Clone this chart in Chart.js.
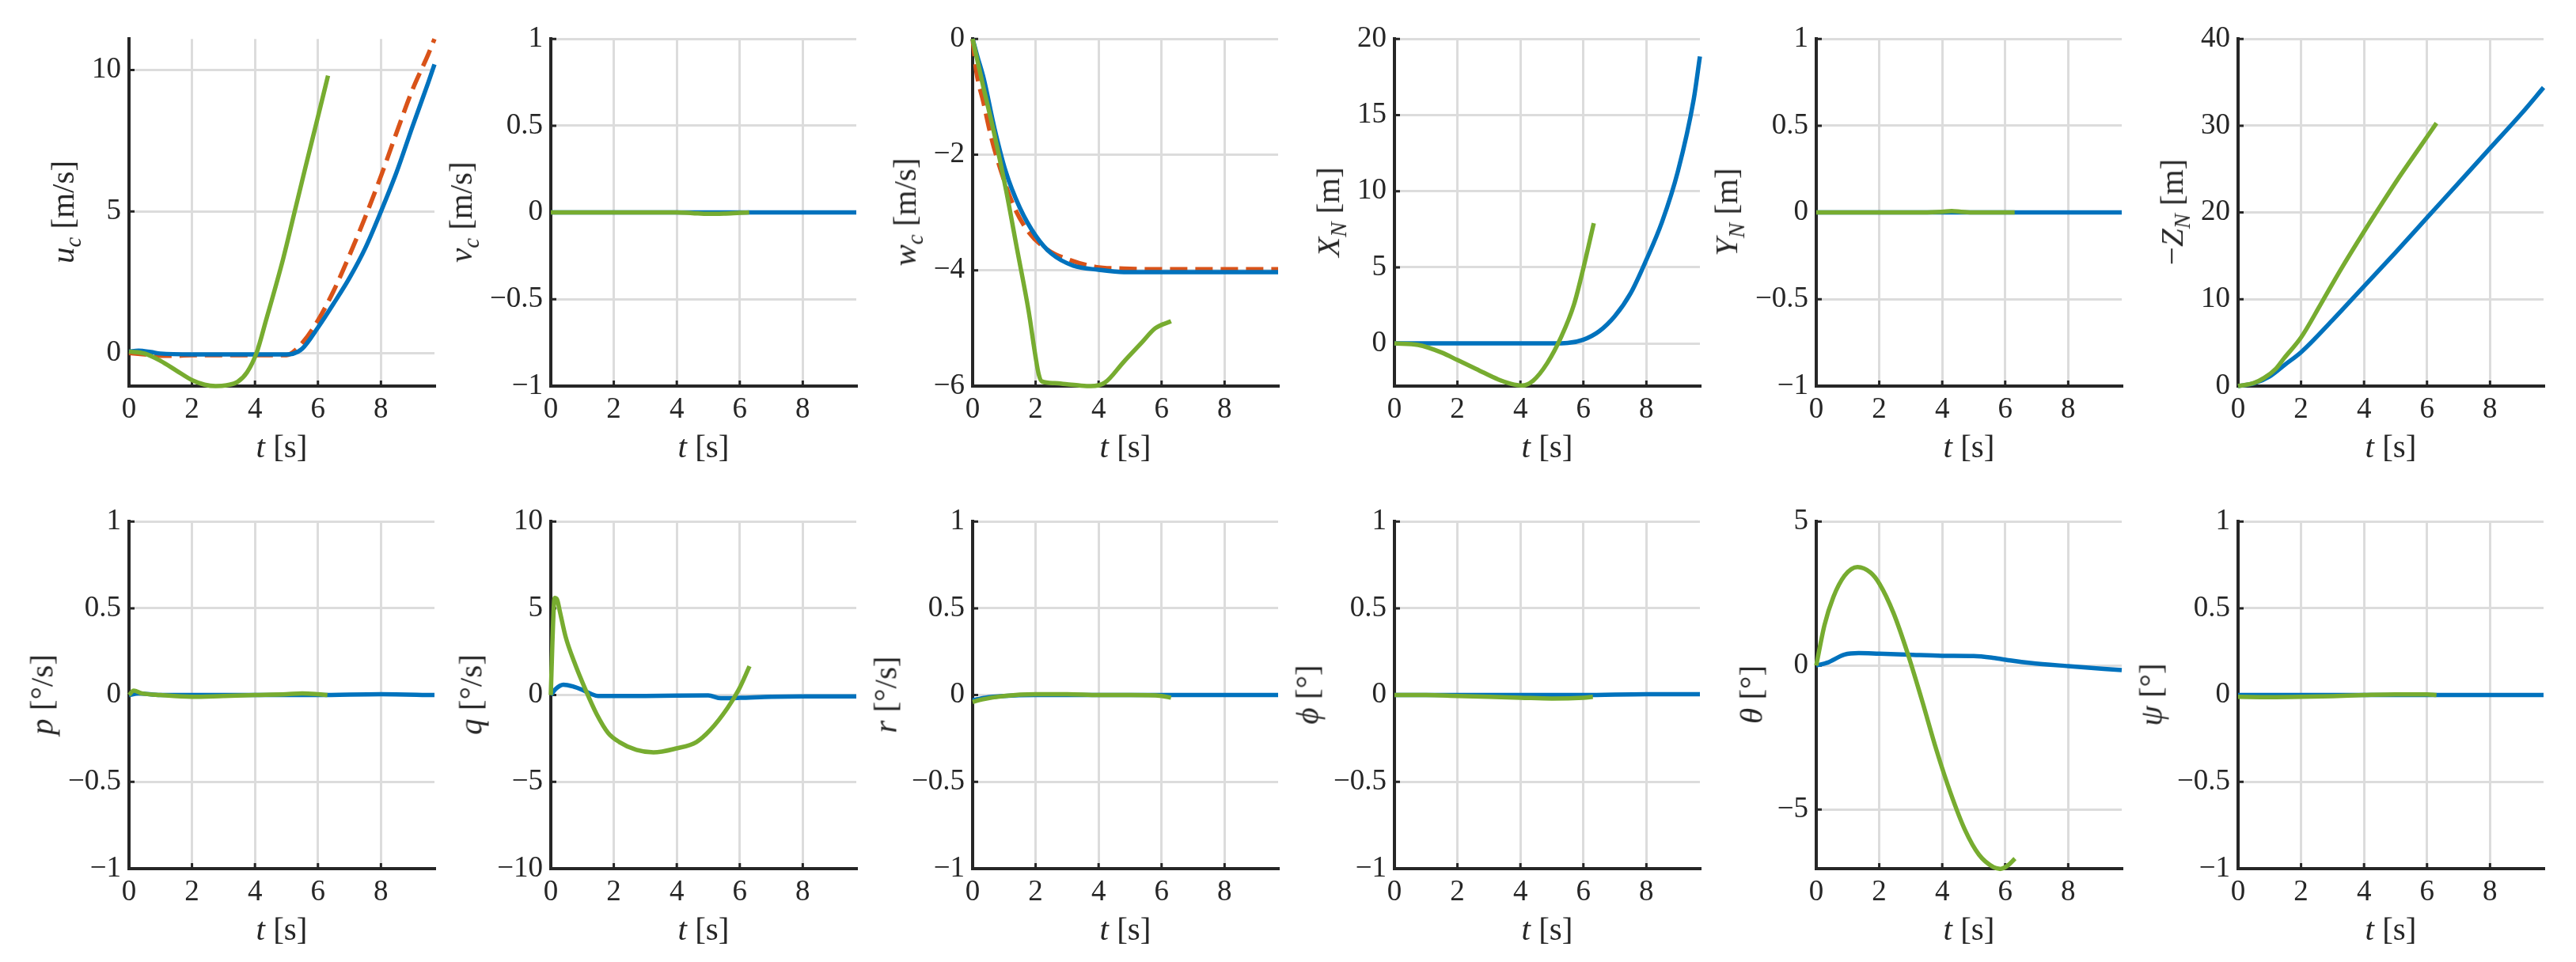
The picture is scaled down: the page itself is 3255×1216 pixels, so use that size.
<!DOCTYPE html>
<html>
<head>
<meta charset="utf-8">
<script src="https://cdn.jsdelivr.net/npm/chart.js@4.4.1/dist/chart.umd.min.js"></script>
<style>
  body { margin: 0; background: #fff; }
  #fig {
    position: relative; width: 3255px; height: 1216px; overflow: hidden;
    background: #fff; color: #262626;
    font-family: "Liberation Serif", "DejaVu Serif", serif;
  }
  #fig canvas { position: absolute; }
  .ylab, .xlab { position: absolute; white-space: nowrap; line-height: 1; font-size: 41px; }
  .ylab { transform: translate(-50%, -50%) rotate(-90deg); }
  .xlab { transform: translate(-50%, -50%); }
  sub { font-size: 0.7em; }
</style>
</head>
<body>
<div id="fig"></div>
<script>
// ---- values (t in s) ----
const T_END = 9.7;
const ticksT = [0, 2, 4, 6, 8];

// u_c [m/s]
const uRefT = [0, 0.5, 1, 1.5, 2, 3, 4, 5, 5.1, 5.5, 6, 6.5, 7, 7.5, 8, 8.5, 9, 9.5, 9.7];
const uRef = [0, -0.05, -0.1, -0.1, -0.08, -0.08, -0.08, -0.08, -0.05, 0.35, 1.15, 2.2, 3.45, 4.8, 6.25, 7.8, 9.3, 10.55, 11.1];
const uBlueT = [0, 0.3, 0.7, 1, 2, 3, 4, 5, 5.2, 5.5, 6, 6.5, 7, 7.5, 8, 8.5, 9, 9.5, 9.7];
const uBlue = [0.05, 0.08, 0.03, -0.02, -0.05, -0.05, -0.05, -0.05, -0.03, 0.15, 0.9, 1.75, 2.65, 3.7, 5.0, 6.4, 8.0, 9.55, 10.2];
const uGreenT = [0, 0.5, 1, 1.5, 2, 2.4, 2.75, 3.1, 3.45, 3.75, 4.05, 4.35, 4.9, 5.25, 5.6, 6, 6.32];
const uGreen = [0.05, -0.02, -0.28, -0.62, -0.96, -1.12, -1.17, -1.14, -1.02, -0.68, 0, 1.15, 3.35, 4.95, 6.55, 8.35, 9.8];
const ticksU = [0, 5, 10];

// v_c [m/s]
const vBlueT = [0, 2, 4, 6, 8, 9.7];
const vBlue = [0, 0, 0, 0, 0, 0];
const vGreenT = [0, 1, 2, 3, 4, 4.5, 5, 5.5, 6, 6.3];
const vGreen = [0, 0, 0, 0, 0, -0.004, -0.008, -0.006, -0.002, 0];

// w_c [m/s]
const wRefT = [0, 0.12, 0.34, 0.6, 0.97, 1.33, 1.78, 2.4, 3.03, 3.9, 4.8, 6, 8, 9.7];
const wRef = [0, -0.57, -1.09, -1.72, -2.4, -2.92, -3.34, -3.65, -3.81, -3.94, -3.97, -3.98, -3.98, -3.98];
const wBlueT = [0, 0.15, 0.35, 0.7, 1.05, 1.5, 2, 2.5, 3.2, 4, 4.8, 6, 8, 9.7];
const wBlue = [0, -0.3, -0.68, -1.56, -2.29, -2.92, -3.4, -3.71, -3.92, -3.99, -4.03, -4.03, -4.03, -4.03];
const wGreenT = [0, 0.34, 0.7, 1.06, 1.42, 1.78, 2.0, 2.1, 2.2, 2.6, 3.0, 3.4, 3.75, 4.2, 4.8, 5.35, 5.8, 6.3];
const wGreen = [0, -0.83, -1.67, -2.61, -3.66, -4.71, -5.5, -5.8, -5.92, -5.95, -5.97, -5.99, -6.0, -5.94, -5.58, -5.26, -5.0, -4.88];
const ticksW = [-6, -4, -2, 0];

// X_N [m]
const xBlueT = [0, 1, 2, 3, 4, 5, 5.5, 6, 6.5, 7, 7.5, 8, 8.5, 9, 9.5, 9.7];
const xBlue = [0, 0, 0, 0, 0, 0, 0.03, 0.25, 0.8, 1.8, 3.3, 5.5, 8.0, 11.3, 16.0, 18.85];
const xGreenT = [0, 0.75, 1.5, 2, 2.6, 3.3, 3.7, 4.05, 4.4, 4.85, 5.3, 5.7, 6, 6.33];
const xGreen = [0, -0.1, -0.6, -1.09, -1.68, -2.37, -2.65, -2.76, -2.45, -1.3, 0.45, 2.55, 4.95, 7.9];
const ticksXN = [0, 5, 10, 15, 20];

// Y_N [m]
const yBlueT = [0, 2, 4, 6, 8, 9.7];
const yBlue = [0, 0, 0, 0, 0, 0];
const yGreenT = [0, 1, 2, 3, 4, 4.3, 4.6, 5, 6, 6.3];
const yGreen = [0, 0, 0, 0, 0.004, 0.008, 0.004, 0, 0, 0];

// -Z_N [m]
const zBlueT = [0, 0.5, 1, 1.5, 2, 3, 4, 5, 6, 7, 8, 9, 9.7];
const zBlue = [0, 0.3, 1.1, 2.5, 3.9, 7.6, 11.5, 15.4, 19.4, 23.4, 27.4, 31.4, 34.4];
const zGreenT = [0, 0.5, 0.83, 1.2, 1.46, 2, 2.62, 3.24, 4, 4.58, 5.12, 5.75, 6.3];
const zGreen = [0, 0.35, 0.94, 2.0, 3.2, 5.6, 9.4, 13.3, 17.8, 21.1, 24.1, 27.4, 30.3];
const ticksZN = [0, 10, 20, 30, 40];

// p [deg/s]
const pBlueT = [0, 0.3, 1, 2, 4, 6, 8, 9.7];
const pBlue = [0, 0.01, 0, 0, 0, 0, 0.005, 0];
const pGreenT = [0, 0.15, 0.4, 1, 2, 3, 4, 5, 5.5, 6, 6.3];
const pGreen = [0, 0.025, 0.01, 0, -0.01, -0.005, 0, 0.005, 0.01, 0.005, 0];

// q [deg/s]
const qBlueT = [0, 0.15, 0.4, 0.7, 1.0, 1.3, 1.5, 3, 5, 5.4, 6, 7, 8, 9.7];
const qBlue = [0, 0.35, 0.6, 0.5, 0.3, 0.05, -0.05, -0.05, -0.02, -0.18, -0.16, -0.1, -0.08, -0.08];
const qGreenT = [0, 0.05, 0.12, 0.2, 0.29, 0.47, 0.74, 1.1, 1.46, 1.82, 2.18, 2.72, 3.26, 3.99, 4.62, 5.07, 5.61, 5.97, 6.31];
const qGreen = [0, 3.0, 5.6, 5.5, 4.8, 3.36, 1.93, 0.32, -1.11, -2.18, -2.71, -3.16, -3.3, -3.07, -2.71, -2.0, -0.75, 0.32, 1.66];
const ticksQ = [-10, -5, 0, 5, 10];

// r [deg/s]
const rBlueT = [0, 0.4, 1, 2, 4, 6, 8, 9.7];
const rBlue = [-0.03, -0.015, -0.005, 0, 0, 0, 0, 0];
const rGreenT = [0, 0.3, 1, 2, 3, 4, 5, 6, 6.3];
const rGreen = [-0.04, -0.025, -0.005, 0.005, 0.005, 0, 0, -0.005, -0.015];

// phi [deg]
const phiBlueT = [0, 2, 4, 6, 8, 9.7];
const phiBlue = [0, 0, 0, 0, 0.005, 0.005];
const phiGreenT = [0, 1, 2, 3, 4, 5, 6, 6.3];
const phiGreen = [0, 0, -0.005, -0.01, -0.015, -0.02, -0.015, -0.01];

// theta [deg]
const thBlueT = [0, 0.35, 0.9, 1.35, 2, 2.9, 4, 5, 5.6, 6.2, 6.8, 8, 9.7];
const thBlue = [0, 0.1, 0.38, 0.43, 0.41, 0.38, 0.34, 0.33, 0.27, 0.17, 0.09, -0.02, -0.16];
const thGreenT = [0, 0.26, 0.54, 0.9, 1.31, 1.72, 2, 2.45, 2.9, 3.35, 3.81, 4.26, 4.72, 5.17, 5.63, 5.85, 6.08, 6.31];
const thGreen = [0, 1.4, 2.37, 3.12, 3.42, 3.23, 2.85, 1.83, 0.43, -1.18, -2.91, -4.41, -5.7, -6.57, -7.0, -7.06, -6.94, -6.7];
const ticksTheta = [-5, 0, 5];

// psi [deg]
const psiBlueT = [0, 2, 4, 6, 8, 9.7];
const psiBlue = [0, 0, 0, 0, 0, 0];
const psiGreenT = [0, 1, 2, 3, 4, 5, 6, 6.3];
const psiGreen = [-0.01, -0.012, -0.01, -0.006, 0, 0.004, 0.004, 0];

const ticksUnit = [-1, -0.5, 0, 0.5, 1];

// ---- look ----
const BLUE = "#0072BD";
const ORANGE = "#D95319";
const GREEN = "#77AC30";
const AXIS = "#262626";
const GRID = "#dcdcdc";
const FONT = '"Liberation Serif", "DejaVu Serif", serif';
const TICK_SIZE = 37;
const LINE_W = 5.5;

// axes boxes, same grid as the figure
const COL0 = 163, COL_STEP = 533;
const ROW_TOP = [47, 657];
const PLOT_W = 386, PLOT_H = 441;
const PAD_L = 120, PAD_T = 30, PAD_R = 20, PAD_B = 60;

const panels = [
  { lab: "<i>u</i><sub><i>c</i></sub> [m/s]", min: -1.17, max: 11.1, ticks: ticksU,
    ref: [uRefT, uRef], blue: [uBlueT, uBlue], green: [uGreenT, uGreen] },
  { lab: "<i>v</i><sub><i>c</i></sub> [m/s]", min: -1, max: 1, ticks: ticksUnit,
    blue: [vBlueT, vBlue], green: [vGreenT, vGreen] },
  { lab: "<i>w</i><sub><i>c</i></sub> [m/s]", min: -6, max: 0, ticks: ticksW,
    ref: [wRefT, wRef], blue: [wBlueT, wBlue], green: [wGreenT, wGreen] },
  { lab: "<i>X</i><sub><i>N</i></sub> [m]", min: -2.8, max: 20, ticks: ticksXN,
    blue: [xBlueT, xBlue], green: [xGreenT, xGreen] },
  { lab: "<i>Y</i><sub><i>N</i></sub> [m]", min: -1, max: 1, ticks: ticksUnit,
    blue: [yBlueT, yBlue], green: [yGreenT, yGreen] },
  { lab: "\u2212<i>Z</i><sub><i>N</i></sub> [m]", min: 0, max: 40, ticks: ticksZN,
    blue: [zBlueT, zBlue], green: [zGreenT, zGreen] },
  { lab: "<i>p</i> [\u00b0/s]", min: -1, max: 1, ticks: ticksUnit,
    blue: [pBlueT, pBlue], green: [pGreenT, pGreen] },
  { lab: "<i>q</i> [\u00b0/s]", min: -10, max: 10, ticks: ticksQ,
    blue: [qBlueT, qBlue], green: [qGreenT, qGreen] },
  { lab: "<i>r</i> [\u00b0/s]", min: -1, max: 1, ticks: ticksUnit,
    blue: [rBlueT, rBlue], green: [rGreenT, rGreen] },
  { lab: "<i>\u03d5</i> [\u00b0]", min: -1, max: 1, ticks: ticksUnit,
    blue: [phiBlueT, phiBlue], green: [phiGreenT, phiGreen] },
  { lab: "<i>\u03b8</i> [\u00b0]", min: -7.05, max: 5, ticks: ticksTheta,
    blue: [thBlueT, thBlue], green: [thGreenT, thGreen] },
  { lab: "<i>\u03c8</i> [\u00b0]", min: -1, max: 1, ticks: ticksUnit,
    blue: [psiBlueT, psiBlue], green: [psiGreenT, psiGreen] },
];

// minus sign like the LaTeX ticks
const fmt = (v) => (v < 0 ? "\u2212" : "") + Math.abs(v).toString();

const toPoints = (pair) => pair[0].map((t, i) => ({ x: t, y: pair[1][i] }));

// short tick marks pointing into the axes
const innerTicks = {
  id: "innerTicks",
  beforeDatasetsDraw(chart) {
    const { ctx, chartArea, scales } = chart;
    ctx.save();
    ctx.strokeStyle = AXIS;
    ctx.lineWidth = 3;
    ctx.beginPath();
    scales.x.ticks.forEach((t) => {
      const px = scales.x.getPixelForValue(t.value);
      ctx.moveTo(px, chartArea.bottom);
      ctx.lineTo(px, chartArea.bottom - 7);
    });
    scales.y.ticks.forEach((t) => {
      const py = scales.y.getPixelForValue(t.value);
      ctx.moveTo(chartArea.left, py);
      ctx.lineTo(chartArea.left + 7, py);
    });
    ctx.stroke();
    ctx.restore();
  },
};

const fig = document.getElementById("fig");
const measure = document.createElement("canvas").getContext("2d");
measure.font = `${TICK_SIZE}px ${FONT}`;

panels.forEach((p, i) => {
  const axLeft = COL0 + COL_STEP * (i % 6);
  const axTop = ROW_TOP[Math.floor(i / 6)];

  const canvas = document.createElement("canvas");
  canvas.width = PAD_L + PLOT_W + PAD_R;
  canvas.height = PAD_T + PLOT_H + PAD_B;
  canvas.style.left = axLeft - PAD_L + "px";
  canvas.style.top = axTop - PAD_T + "px";
  fig.appendChild(canvas);

  const datasets = [];
  datasets.push({ data: toPoints(p.green), borderColor: GREEN, borderWidth: LINE_W, order: 0 });
  datasets.push({ data: toPoints(p.blue), borderColor: BLUE, borderWidth: LINE_W, order: 1 });
  if (p.ref) {
    datasets.push({ data: toPoints(p.ref), borderColor: ORANGE, borderWidth: LINE_W,
      borderDash: [22, 10], order: 2 });
  }

  new Chart(canvas.getContext("2d"), {
    type: "line",
    data: { datasets: datasets },
    options: {
      responsive: false,
      animation: false,
      devicePixelRatio: 1,
      layout: { padding: { left: 0, top: PAD_T, right: PAD_R, bottom: 0 } },
      elements: {
        point: { radius: 0 },
        line: { cubicInterpolationMode: "monotone", borderCapStyle: "butt", fill: false },
      },
      datasets: { line: { clip: 6 } },
      plugins: { legend: false, tooltip: { enabled: false } },
      scales: {
        x: {
          type: "linear",
          min: 0,
          max: T_END,
          bounds: "data",
          afterBuildTicks: (s) => { s.ticks = ticksT.map((v) => ({ value: v })); },
          afterFit: (s) => { s.height = PAD_B; },
          grid: { color: GRID, lineWidth: 3, drawTicks: false },
          border: { display: true, color: AXIS, width: 4 },
          ticks: { color: AXIS, padding: 8, maxRotation: 0,
            font: { family: FONT, size: TICK_SIZE }, callback: fmt },
        },
        y: {
          type: "linear",
          min: p.min,
          max: p.max,
          bounds: "data",
          afterBuildTicks: (s) => { s.ticks = p.ticks.map((v) => ({ value: v })); },
          afterFit: (s) => { s.width = PAD_L; },
          grid: { color: GRID, lineWidth: 3, drawTicks: false },
          border: { display: true, color: AXIS, width: 4 },
          ticks: { color: AXIS, padding: 10,
            font: { family: FONT, size: TICK_SIZE }, callback: fmt },
        },
      },
    },
    plugins: [innerTicks],
  });

  // y label sits left of the widest tick label, like MATLAB does
  const widest = Math.max(...p.ticks.map((v) => measure.measureText(fmt(v)).width));
  const ylab = document.createElement("div");
  ylab.className = "ylab";
  ylab.innerHTML = p.lab;
  ylab.style.left = axLeft - 10 - widest - 12 - 21 + "px";
  ylab.style.top = axTop + PLOT_H / 2 + "px";
  fig.appendChild(ylab);

  const xlab = document.createElement("div");
  xlab.className = "xlab";
  xlab.innerHTML = "<i>t</i> [s]";
  xlab.style.left = axLeft + PLOT_W / 2 + "px";
  xlab.style.top = axTop + PLOT_H + 76 + "px";
  fig.appendChild(xlab);
});
</script>
</body>
</html>
